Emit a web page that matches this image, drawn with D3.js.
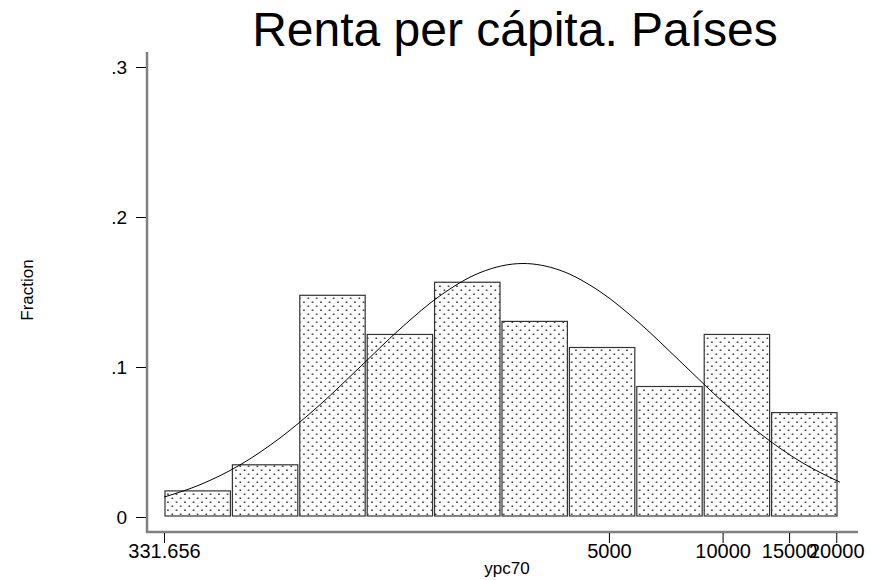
<!DOCTYPE html>
<html>
<head>
<meta charset="utf-8">
<script src="https://cdn.jsdelivr.net/npm/d3@7"></script>
<style>
  body { margin: 0; background: #fff; }
  text { font-family: "Liberation Sans", Arial, sans-serif; }
</style>
</head>
<body>
<div id="chart"></div>
<script>
// histogram of ypc70 (log scale), 10 bins
var binEdges = [331.656, 500.2, 754.5, 1138, 1716, 2589, 3905, 5890, 8884, 13400, 20211];
var fractions = [0.0174, 0.0348, 0.1478, 0.1217, 0.1565, 0.1304, 0.1130, 0.0870, 0.1217, 0.0696];

// normal curve
var curveX = [331.656, 413, 527, 673, 859, 1096, 1398, 1785, 2278, 2960, 3710, 4734, 6042, 7711, 9841, 12560, 16030, 20457];
var curveY = [0.0133, 0.0215, 0.0347, 0.0527, 0.0749, 0.100, 0.1253, 0.1475, 0.1629, 0.169, 0.1645, 0.1503, 0.129, 0.1039, 0.0785, 0.0557, 0.0371, 0.0232];

var yTicks = [0, 0.1, 0.2, 0.3];
var yTickLabels = ["0", ".1", ".2", ".3"];
var xTicks = [331.656, 5000, 10000, 15000, 20000];
var xTickLabels = ["331.656", "5000", "10000", "15000", "20000"];

var width = 871, height = 580;

var svg = d3.select("#chart")
  .append("svg")
  .attr("width", width)
  .attr("height", height);

var defs = svg.append("defs");
var pat = defs.append("pattern")
  .attr("id", "dots")
  .attr("patternUnits", "userSpaceOnUse")
  .attr("width", 8.5)
  .attr("height", 8);
pat.append("rect").attr("width", 8.5).attr("height", 8).attr("fill", "#fff");
pat.append("rect").attr("x", 1.5).attr("y", 1.5).attr("width", 1.5).attr("height", 1.5).attr("fill", "#222");
pat.append("rect").attr("x", 5.75).attr("y", 5.5).attr("width", 1.5).attr("height", 1.5).attr("fill", "#222");

var x = d3.scaleLog()
  .domain([binEdges[0], binEdges[binEdges.length - 1]])
  .range([164, 838]);

var y = d3.scaleLinear()
  .domain([0, 0.3])
  .range([517, 67]);

// title
svg.append("text")
  .attr("x", 515)
  .attr("y", 46)
  .style("text-anchor", "middle")
  .style("font-size", "48px")
  .text("Renta per cápita. Países");

// bars
var bins = fractions.map(function(f, i) { return {lo: binEdges[i], hi: binEdges[i + 1], f: f}; });
svg.selectAll("rect.bar")
  .data(bins)
  .enter()
  .append("rect")
  .attr("class", "bar")
  .attr("x", function(d) { return x(d.lo) + 1; })
  .attr("width", function(d) { return x(d.hi) - x(d.lo) - 2; })
  .attr("y", function(d) { return y(d.f); })
  .attr("height", function(d) { return y(0) - 1 - y(d.f); })
  .attr("fill", "url(#dots)")
  .attr("stroke", "#333")
  .attr("stroke-width", 1.2);

// normal curve
var pts = curveX.map(function(v, i) { return [v, curveY[i]]; });
svg.append("path")
  .datum(pts)
  .attr("fill", "none")
  .attr("stroke", "#000")
  .attr("stroke-width", 1)
  .attr("d", d3.line()
    .x(function(d) { return x(d[0]); })
    .y(function(d) { return y(d[1]); })
    .curve(d3.curveMonotoneX));

// axis lines
svg.append("line")
  .attr("x1", 147).attr("x2", 147).attr("y1", 52).attr("y2", 533)
  .attr("stroke", "#808080").attr("stroke-width", 2.5);
svg.append("line")
  .attr("x1", 146).attr("x2", 858).attr("y1", 532).attr("y2", 532)
  .attr("stroke", "#808080").attr("stroke-width", 2.5);

var yAxis = svg.append("g")
  .attr("transform", "translate(146,0)")
  .call(d3.axisLeft(y).tickValues(yTicks)
    .tickFormat(function(d, i) { return yTickLabels[i]; })
    .tickSize(10).tickPadding(9));
yAxis.select(".domain").remove();
yAxis.selectAll("text").style("font-size", "19px").style("font-family", "Liberation Sans, Arial, sans-serif").attr("fill", "#000");
yAxis.selectAll("line").attr("stroke", "#000");

var xAxis = svg.append("g")
  .attr("transform", "translate(0,533)")
  .call(d3.axisBottom(x).tickValues(xTicks)
    .tickFormat(function(d, i) { return xTickLabels[i]; })
    .tickSize(10).tickPadding(1));
xAxis.select(".domain").remove();
xAxis.selectAll("text").style("font-size", "20px").style("font-family", "Liberation Sans, Arial, sans-serif").attr("fill", "#000");
xAxis.selectAll("line").attr("stroke", "#000");

// axis titles
svg.append("text")
  .attr("transform", "translate(33,290) rotate(-90)")
  .style("text-anchor", "middle")
  .style("font-size", "17px")
  .text("Fraction");

svg.append("text")
  .attr("x", 507)
  .attr("y", 574)
  .style("text-anchor", "middle")
  .style("font-size", "17px")
  .text("ypc70");
</script>
</body>
</html>
